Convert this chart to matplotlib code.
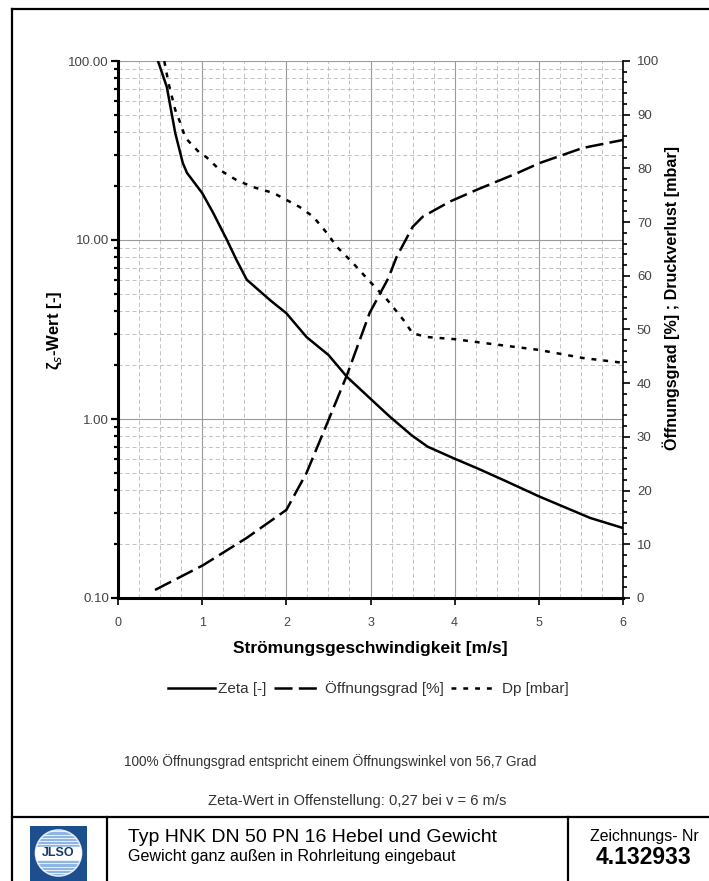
import numpy as np
import matplotlib
matplotlib.use("Agg")
from matplotlib import pyplot as plt
from matplotlib.lines import Line2D
from matplotlib.patches import Rectangle, Circle
from matplotlib.ticker import FixedLocator, MultipleLocator, NullFormatter, FormatStrFormatter

plt.rcParams['font.family'] = ['Liberation Sans', 'DejaVu Sans']
plt.rcParams['lines.scale_dashes'] = False
NARROW = ['Liberation Sans Narrow', 'Liberation Sans', 'DejaVu Sans']

# Zeta-Wert (left log axis)
zeta_v = [0.475, 0.58, 0.68, 0.77, 0.82, 1.0, 1.13, 1.29, 1.41, 1.53, 1.81, 2.0, 2.24, 2.5,
          2.72, 2.99, 3.23, 3.49, 3.68, 4.0, 4.27, 4.58, 5.0, 5.25, 5.61, 6.0]
zeta = [100, 71.6, 39.6, 26.9, 23.7, 18.3, 14.2, 10.1, 7.7, 6.0, 4.6, 3.9, 2.87, 2.28,
        1.72, 1.31, 1.03, 0.81, 0.70, 0.60, 0.53, 0.456, 0.37, 0.33, 0.28, 0.246]

# Oeffnungsgrad [%] (right axis)
oeff_v = [0.44, 1.01, 1.53, 2.0, 2.24, 2.5, 2.72, 2.99, 3.21, 3.31, 3.5, 3.62, 3.94, 4.26,
          4.74, 5.01, 5.52, 6.0]
oeff = [1.5, 6.1, 11.2, 16.4, 23.3, 33.1, 41.5, 53.1, 59.5, 63.5, 69.1, 71, 73.8, 76,
        79.1, 81, 83.8, 85.3]

# Druckverlust [mbar] (right axis)
dp_v = [0.55, 0.6, 0.68, 0.74, 0.8, 0.97, 1.05, 1.21, 1.41, 1.61, 1.85, 2.16, 2.32, 2.48,
        2.6, 2.79, 2.97, 3.2, 3.39, 3.5, 3.67, 4.0, 4.34, 5.0, 5.52, 6.0]
dp = [100, 95.9, 90.9, 88.5, 85.7, 82.9, 82.1, 79.7, 77.8, 76.5, 75.4, 72.8, 71, 68,
      65.4, 62.4, 59.3, 55.5, 51.8, 49.3, 48.6, 48.2, 47.5, 46.2, 44.7, 43.8]

W, H = 709, 881


def px(x, y):
    return x / W, 1 - y / H


fig = plt.figure(figsize=(W / 100, H / 100), dpi=100)

ax = fig.add_axes([118 / W, (H - 598) / H, 505 / W, 537 / H])
ax.set_yscale('log')
ax.set_xlim(0, 6)
ax.set_ylim(0.1, 100)

# grid
ax.xaxis.set_major_locator(MultipleLocator(1))
ax.xaxis.set_minor_locator(MultipleLocator(0.25))
ax.yaxis.set_major_locator(FixedLocator([0.1, 1, 10, 100]))
minors = [m * 10.0 ** e for e in (-1, 0, 1) for m in range(2, 10)]
ax.yaxis.set_minor_locator(FixedLocator(minors))
ax.yaxis.set_major_formatter(FormatStrFormatter('%.2f'))
ax.yaxis.set_minor_formatter(NullFormatter())
ax.grid(True, which='major', color='#9a9a9a', lw=0.8, ls='-')
ax.grid(True, which='minor', color='#b8b8b8', lw=0.6, ls=(0, (3, 2)))
ax.set_axisbelow(True)

for s in ['top', 'right']:
    ax.spines[s].set_visible(False)
ax.spines['left'].set_linewidth(2.2)
ax.spines['bottom'].set_linewidth(2.2)

ax.tick_params(axis='y', which='major', direction='out', length=5, width=1.6,
               labelsize=9.5, labelcolor='#444444', pad=1.5)
ax.tick_params(axis='y', which='minor', direction='out', length=3, width=1.6)
ax.tick_params(axis='x', which='major', direction='out', length=5, width=1.2,
               labelsize=9, labelcolor='#444444', pad=9)
ax.tick_params(axis='x', which='minor', length=0)
for lab in ax.get_xticklabels() + ax.get_yticklabels():
    lab.set_family(NARROW)

l1, = ax.plot(zeta_v, zeta, color='black', lw=1.8, label='Zeta [-]')

ax2 = ax.twinx()
ax2.set_ylim(0, 100)
ax2.yaxis.set_major_locator(MultipleLocator(10))
ax2.yaxis.set_minor_locator(MultipleLocator(2))
for s in ['top', 'left', 'bottom']:
    ax2.spines[s].set_visible(False)
ax2.spines['right'].set_linewidth(1.2)
ax2.tick_params(axis='y', which='major', direction='out', length=5, width=1.2,
                labelsize=9.5, labelcolor='#444444', pad=5)
ax2.tick_params(axis='y', which='minor', direction='out', length=3, width=1.2)
for lab in ax2.get_yticklabels():
    lab.set_family(NARROW)

l2, = ax2.plot(oeff_v, oeff, color='black', lw=1.8, dashes=(13, 4.5), label='Öffnungsgrad [%]')
l3, = ax2.plot(dp_v, dp, color='black', lw=1.8, dashes=(3.5, 5), label='Dp [mbar]')

# axis labels
fig.text(*px(370, 649), 'Strömungsgeschwindigkeit [m/s]', ha='center', va='center',
         fontsize=12.5, fontweight='bold')
fig.text(*px(55, 330), r'ζ$_s$-Wert [-]', ha='center', va='center', rotation=90,
         fontsize=12, fontweight='bold')
fig.text(*px(671, 298), 'Öffnungsgrad [%] ; Druckverlust [mbar]', ha='center', va='center',
         rotation=90, fontsize=11.6, fontweight='bold')

leg = fig.legend(handles=[l1, l2, l3], loc='center', bbox_to_anchor=px(368, 689), ncol=3,
                 frameon=False, handlelength=3.1, handletextpad=0.2, columnspacing=0.5,
                 prop={'family': NARROW, 'size': 11})
for t in leg.get_texts():
    t.set_color('#333333')

# notes
fig.text(*px(330, 762), '100% Öffnungsgrad entspricht einem Öffnungswinkel von 56,7 Grad',
         ha='center', va='center', fontsize=9.8, color='#333333')
fig.text(*px(357, 801), 'Zeta-Wert in Offenstellung: 0,27 bei v = 6 m/s',
         ha='center', va='center', fontsize=10.6, color='#333333')

# frame and title block
frame = [((12, 9), (709, 9)), ((12, 9), (12, 881)), ((12, 817), (709, 817)),
         ((107, 817), (107, 881)), ((568, 817), (568, 881))]
for (a, b) in frame:
    fig.add_artist(Line2D([a[0] / W, b[0] / W], [1 - a[1] / H, 1 - b[1] / H],
                          transform=fig.transFigure, color='black', lw=1.6))

fig.text(*px(128, 838), 'Typ HNK DN 50 PN 16 Hebel und Gewicht', ha='left', va='center',
         fontsize=14)
fig.text(*px(128, 857), 'Gewicht ganz außen in Rohrleitung eingebaut', ha='left', va='center',
         fontsize=11.6)
fig.text(*px(644, 837), 'Zeichnungs- Nr', ha='center', va='center', fontsize=11.4)
fig.text(*px(643, 858), '4.132933', ha='center', va='center', fontsize=16.5, fontweight='bold')

# logo
lg = fig.add_axes([30 / W, 0, 57 / W, 55 / H])
lg.set_xlim(0, 57)
lg.set_ylim(0, 55)
lg.axis('off')
lg.add_patch(Rectangle((0, 0), 57, 55, color='#1d4f8f'))
circ = Circle((28.5, 28), 23, facecolor='#8fb6e2', edgecolor='#dbe8f5', lw=1.2)
lg.add_patch(circ)
for yy in np.arange(8, 50, 3.2):
    ln, = lg.plot([4, 53], [yy, yy], color='white', lw=0.7, alpha=0.8)
    ln.set_clip_path(circ)
band = Rectangle((0, 22), 57, 12, color='white')
lg.add_patch(band)
band.set_clip_path(circ)
lg.text(28.5, 28, 'JLSO', ha='center', va='center', fontsize=9, fontweight='bold',
        color='#1a3a6b')

fig.savefig('out.png', dpi=100)
